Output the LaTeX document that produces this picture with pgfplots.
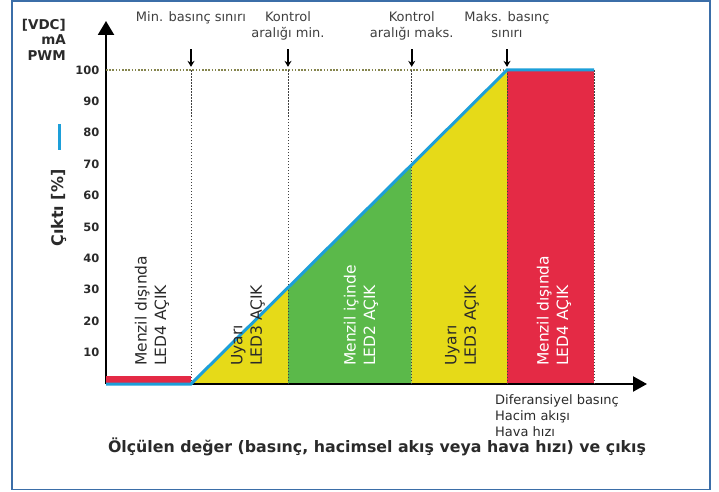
\documentclass[border=0pt]{standalone}
\usepackage{pgfplots}
\pgfplotsset{compat=1.18}
\usepackage{fontspec}
\setmainfont{DejaVu Sans}
\usetikzlibrary{arrows.meta}
\definecolor{cred}{HTML}{E42A45}
\definecolor{cyel}{HTML}{E6DA18}
\definecolor{cgrn}{HTML}{5BB94A}
\definecolor{cblue}{HTML}{1D9FD9}
\definecolor{cframe}{HTML}{3B6EA8}
\definecolor{txt}{HTML}{2A2A2A}
\definecolor{dotc}{HTML}{85854E}
\begin{document}
\begin{tikzpicture}[x=1pt,y=1pt]
\path[use as bounding box] (0,0) rectangle (719,491);
\draw[cframe, line width=1.5pt] (12,1.5) rectangle (710,490);
\begin{axis}[at={(106pt,107pt)}, anchor=south west,
  width=541pt, height=363pt, scale only axis,
  xmin=0, xmax=541, ymin=0, ymax=115.6,
  axis lines=left,
  axis line style={line width=2.2pt, black},
  x axis line style={-{Triangle[width=15pt,length=14pt]}},
  y axis line style={-{Triangle[width=16pt,length=14pt]}},
  xtick=\empty, ytick={10,20,...,100}, major tick length=0pt,
  yticklabel style={font=\fontsize{11.5}{13}\selectfont\bfseries, text=txt, xshift=-3pt},
  /pgf/number format/assume math mode=true,
  clip=false,
]
% fills
\addplot[fill=cred, draw=none] coordinates {(0,0) (85,0) (85,2.5) (0,2.5)} -- cycle;
\addplot[fill=cyel, draw=none] coordinates {(85,0) (182,30.7) (182,0)} -- cycle;
\addplot[fill=cgrn, draw=none] coordinates {(182,0) (182,30.7) (305.7,70) (305.7,0)} -- cycle;
\addplot[fill=cyel, draw=none] coordinates {(305.7,0) (305.7,70) (401,100) (401,0)} -- cycle;
\addplot[fill=cred, draw=none] coordinates {(401,0) (401,100) (488,100) (488,0)} -- cycle;
% axis line over fills
\addplot[black, line width=2.5pt] coordinates {(85,0) (500,0)};
% dotted guides
\addplot[dotc, line width=1.3pt, dash pattern=on 1.6pt off 1.6pt] coordinates {(0,100) (401,100)};
\addplot[black!75, line width=1pt, dash pattern=on 1.5pt off 1.5pt] coordinates {(85,0) (85,100)};
\addplot[black!75, line width=1pt, dash pattern=on 1.5pt off 1.5pt] coordinates {(182,0) (182,100)};
\addplot[black!75, line width=1pt, dash pattern=on 1.5pt off 1.5pt] coordinates {(305.7,0) (305.7,100)};
\addplot[black!75, line width=1pt, dash pattern=on 1.5pt off 1.5pt] coordinates {(401,0) (401,100)};
\addplot[black!75, line width=1pt, dash pattern=on 1.5pt off 1.5pt] coordinates {(488,0) (488,100)};
% output line
\addplot[cblue, line width=3pt] coordinates {(0,0) (85,0) (401,100) (488,100)};
% marker arrows
\foreach \xx in {85,182,305.7,401} {
  \edef\tmp{\noexpand\draw[line width=1.6pt, -{Stealth[width=7pt,length=6pt]}] (axis cs:\xx,106.6) -- (axis cs:\xx,101.0);}
  \tmp
}
% top labels
\begin{scope}[every node/.style={font=\fontsize{13}{16}\selectfont, text=txt!90, align=center, anchor=north, inner sep=0pt}]
\node at (axis cs:85,118.7) {Min. basınç sınırı};
\node at (axis cs:182,118.7) {Kontrol\\aralığı min.};
\node at (axis cs:305.7,118.7) {Kontrol\\aralığı maks.};
\node at (axis cs:401,118.7) {Maks. basınç\\sınırı};
\end{scope}
% region labels
\begin{scope}[every node/.style={font=\fontsize{15.5}{19.5}\selectfont, align=left, anchor=west, rotate=90, inner sep=0pt}]
\node[text=txt] at (axis cs:46,5.7) {Menzil dışında\\LED4 AÇIK};
\node[text=txt] at (axis cs:142,5.7) {Uyarı\\LED3 AÇIK};
\node[text=white] at (axis cs:255,5.7) {Menzil içinde\\LED2 AÇIK};
\node[text=txt] at (axis cs:356,5.7) {Uyarı\\LED3 AÇIK};
\node[text=white] at (axis cs:448,5.7) {Menzil dışında\\LED4 AÇIK};
\end{scope}
% bottom right labels
\node[font=\fontsize{13}{16}\selectfont, text=txt, align=left, anchor=north west, inner sep=0pt] at (axis cs:389,-3.2) {Diferansiyel basınç\\Hacim akışı\\Hava hızı};
\end{axis}
% y label block
\node[font=\fontsize{13.5}{15.5}\selectfont\bfseries, text=txt, align=right, anchor=north east, inner sep=0pt] at (66,472) {[VDC]\\mA\\PWM};
\draw[cblue, line width=3pt] (59,367) -- (59,341);
\node[font=\fontsize{16}{18}\selectfont\bfseries, text=txt, rotate=90, inner sep=0pt] at (59,283) {Çıktı [\%]};
% x label
\node[font=\fontsize{15.8}{18}\selectfont\bfseries, text=txt, inner sep=0pt] at (377,44) {Ölçülen değer (basınç, hacimsel akış veya hava hızı) ve çıkış};
\end{tikzpicture}
\end{document}
